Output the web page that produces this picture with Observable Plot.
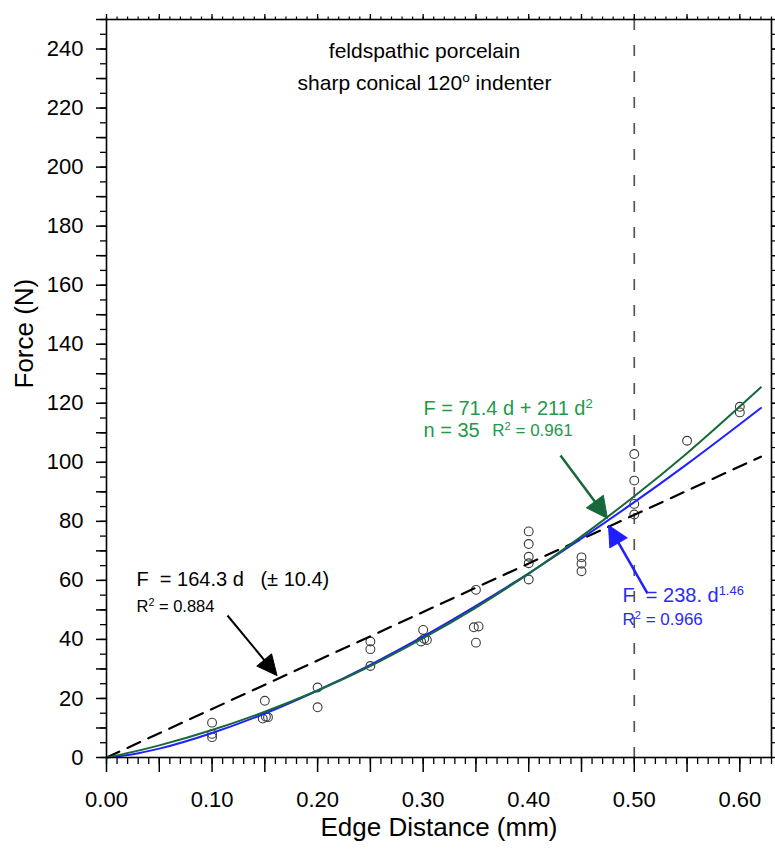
<!DOCTYPE html>
<html>
<head>
<meta charset="utf-8">
<script src="https://cdn.jsdelivr.net/npm/d3@7"></script>
<script src="https://cdn.jsdelivr.net/npm/@observablehq/plot@0.6"></script>
<style>
  html, body { margin: 0; padding: 0; background: #fff; }
  #chart { width: 775px; height: 854px; }
</style>
</head>
<body>
<div id="chart"></div>
<script>
// ---- data ----
const edgeDistance = [0.10,0.10,0.10, 0.15,0.148,0.151,0.153, 0.20,0.20, 0.25,0.25,0.25,
  0.30,0.298,0.3035,0.301, 0.35,0.348,0.3525,0.35, 0.40,0.40,0.40,0.40,0.40,
  0.45,0.45,0.45, 0.50,0.50,0.50,0.50, 0.55, 0.60,0.60];
const force = [11.8,8.0,6.9, 19.2,13.2,13.8,13.6, 23.7,17.0, 39.3,36.7,31.0,
  43.2,39.3,39.8,40.2, 56.8,44.1,44.4,38.9, 76.6,72.3,68.0,65.8,60.3,
  67.8,65.6,63.1, 102.8,93.8,85.9,82.3, 107.3, 118.8,116.9];

// fitted curves
const curveD     = [0, 0.025, 0.05, 0.10, 0.15, 0.20, 0.25, 0.30, 0.35, 0.40, 0.45, 0.50, 0.55, 0.62];
const quadForce  = [0, 1.9, 4.1, 9.3, 15.5, 22.7, 31.0, 40.4, 50.8, 62.3, 74.9, 88.5, 103.1, 125.4];
const powerForce = [0, 1.1, 3.0, 8.3, 14.9, 22.7, 31.4, 41.0, 51.4, 62.4, 74.2, 86.5, 99.4, 118.4];
const linearD     = [0, 0.62];
const linearForce = [0, 101.9];

const xTicksMajor = d3.range(0, 13).map(i => +(i * 0.05).toFixed(2));
const xTicksMinor = d3.range(0, 64).map(i => +(i * 0.01).toFixed(2));
const yTicksMajor = d3.range(0, 26).map(i => i * 10);
const yTicksMinor = d3.range(0, 51).map(i => i * 5);
const criticalD = [0.5];

// ---- layout ----
const W = 775, H = 854, mL = 106, mR = 4, mT = 19, mB = 97;
const xDomain = [0, 0.63], yDomain = [0, 250];
const kx = (W - mL - mR) / (xDomain[1] - xDomain[0]);
const ky = (H - mT - mB) / (yDomain[1] - yDomain[0]);

const pts = edgeDistance.map((d, i) => ({d, f: force[i]}));
const quad = curveD.map((d, i) => ({d, f: quadForce[i]}));
const pow = curveD.map((d, i) => ({d, f: powerForce[i]}));
const lin = linearD.map((d, i) => ({d, f: linearForce[i]}));

const greenText = "#23994a", greenDark = "#17683a", blue = "#1f1fff", blueText = "#2b2bef";

const arrows = [
  {x1: 0.1146, y1: 48.1, x2: 0.1615, y2: 27.8, color: "#000", hl: 20, hw: 9.5, sw: 2},
  {x1: 0.4301, y1: 102.3, x2: 0.4746, y2: 81.0, color: greenDark, hl: 21, hw: 10.5, sw: 2.5},
  {x1: 0.5125, y1: 55.6, x2: 0.4756, y2: 78.6, color: blue, hl: 20, hw: 10, sw: 2.5}
];

const headShape = {
  draw(ctx, l, r) { ctx.moveTo(0, -l); ctx.lineTo(-r, 0); ctx.lineTo(r, 0); ctx.closePath(); }
};

const arrowMarks = arrows.flatMap(a => {
  const dxp = (a.x2 - a.x1) * kx, dyp = -(a.y2 - a.y1) * ky;
  const len = Math.hypot(dxp, dyp);
  const angle = Math.atan2(dxp, -dyp) * 180 / Math.PI;
  const back = a.hl - 3;
  const bx = a.x2 - (dxp / len) * back / kx;
  const by = a.y2 + (dyp / len) * back / ky;
  return [
    Plot.link([a], {x1: "x1", y1: "y1", x2: () => bx, y2: () => by, stroke: a.color, strokeWidth: a.sw}),
    Plot.vector([a], {x: "x2", y: "y2", length: a.hl, r: a.hw, rotate: angle, anchor: "end",
      shape: headShape, fill: a.color, stroke: a.color, strokeWidth: 1})
  ];
});

const NB = "\u00a0";
const xLabel = d => (Math.round(d * 100) % 10 === 0) ? d.toFixed(2) : "";
const yLabel = d => (d % 20 === 0 && d <= 240) ? String(d) : "";
const none = () => "";

const chart = Plot.plot({
  width: W, height: H,
  marginLeft: mL, marginRight: mR, marginTop: mT, marginBottom: mB,
  x: {domain: xDomain},
  y: {domain: yDomain},
  style: {fontFamily: "'Liberation Sans', Arial, Helvetica, sans-serif", background: "#fff", color: "#000", overflow: "visible"},
  marks: [
    // axes
    Plot.axisX({anchor: "bottom", ticks: xTicksMajor, tickSize: 15, tickPadding: 19, fontSize: 22, tickFormat: xLabel, label: null, strokeWidth: 1.5}),
    Plot.axisX({anchor: "bottom", ticks: xTicksMinor, tickSize: 7, tickFormat: none, label: null, strokeWidth: 1.3}),
    Plot.axisX({anchor: "top", ticks: xTicksMajor, tickSize: 6, tickFormat: none, label: null, strokeWidth: 1.3}),
    Plot.axisX({anchor: "top", ticks: xTicksMinor, tickSize: 3.5, tickFormat: none, label: null, strokeWidth: 1.2}),
    Plot.axisY({anchor: "left", ticks: yTicksMajor, tickSize: 10, tickPadding: 13, fontSize: 22, tickFormat: yLabel, label: null, strokeWidth: 1.5}),
    Plot.axisY({anchor: "left", ticks: yTicksMinor, tickSize: 6, tickFormat: none, label: null, strokeWidth: 1.3}),
    Plot.axisY({anchor: "right", ticks: yTicksMajor, tickSize: 6, tickFormat: none, label: null, strokeWidth: 1.3}),
    Plot.axisY({anchor: "right", ticks: yTicksMinor, tickSize: 3.5, tickFormat: none, label: null, strokeWidth: 1.2}),
    Plot.text(["Edge Distance (mm)"], {frameAnchor: "bottom", dy: 78, fontSize: 26}),
    Plot.text(["Force (N)"], {frameAnchor: "left", rotate: -90, dx: -82, fontSize: 26}),

    // critical distance
    Plot.ruleX(criticalD, {stroke: "#555", strokeWidth: 1.7, strokeDasharray: "11,15"}),

    // data
    Plot.dot(pts, {x: "d", y: "f", r: 4.4, stroke: "#3c3c3c", strokeWidth: 1.1, fill: "none"}),
    Plot.line(lin, {x: "d", y: "f", stroke: "#000", strokeWidth: 2.2, strokeDasharray: "14,9"}),
    Plot.line(pow, {x: "d", y: "f", stroke: blue, strokeWidth: 2, curve: "monotone-x"}),
    Plot.line(quad, {x: "d", y: "f", stroke: greenDark, strokeWidth: 2, curve: "monotone-x"}),

    // arrows
    ...arrowMarks,

    // titles & annotations
    Plot.text(["feldspathic porcelain"], {x: 0.3013, y: 239.3, fontSize: 21}),
    Plot.text(["sharp conical 120^o^ indenter"], {x: 0.3013, y: 228.5, fontSize: 21}),

    Plot.text([`F${NB}${NB}= 164.3 d${NB}${NB}${NB}(± 10.4)`], {x: 0.0284, y: 60.1, textAnchor: "start", fontSize: 20}),
    Plot.text(["R^2^ = 0.884"], {x: 0.0284, y: 51.0, textAnchor: "start", fontSize: 16.5}),

    Plot.text(["F = 71.4 d + 211 d^2^"], {x: 0.3003, y: 118.1, textAnchor: "start", fontSize: 20, fill: greenText}),
    Plot.text(["n = 35"], {x: 0.3003, y: 110.8, textAnchor: "start", fontSize: 20, fill: greenText}),
    Plot.text(["R^2^ = 0.961"], {x: 0.3655, y: 110.6, textAnchor: "start", fontSize: 17, fill: greenText}),

    Plot.text([`F${NB}${NB}= 238. d^1.46^`], {x: 0.4888, y: 54.7, textAnchor: "start", fontSize: 20, fill: blueText}),
    Plot.text(["R^2^ = 0.966"], {x: 0.4888, y: 46.7, textAnchor: "start", fontSize: 17, fill: blueText}),

    Plot.frame({stroke: "#000", strokeWidth: 1.6})
  ]
});

document.getElementById("chart").appendChild(chart);

// superscripts: segments wrapped in ^...^
const SVGNS = "http://www.w3.org/2000/svg";
for (const t of chart.querySelectorAll("text")) {
  const s = t.textContent;
  if (!s.includes("^")) continue;
  const fs = parseFloat(getComputedStyle(t).fontSize) || 16;
  const parts = s.split("^");
  while (t.firstChild) t.removeChild(t.firstChild);
  let raised = false;
  parts.forEach((p, i) => {
    const ts = document.createElementNS(SVGNS, "tspan");
    ts.textContent = p;
    if (i % 2 === 1) {
      ts.setAttribute("font-size", (fs * 0.65).toFixed(1));
      ts.setAttribute("dy", (-fs * 0.38).toFixed(1));
      raised = true;
    } else if (raised) {
      ts.setAttribute("dy", (fs * 0.38).toFixed(1));
      raised = false;
    }
    t.appendChild(ts);
  });
}
</script>
</body>
</html>
